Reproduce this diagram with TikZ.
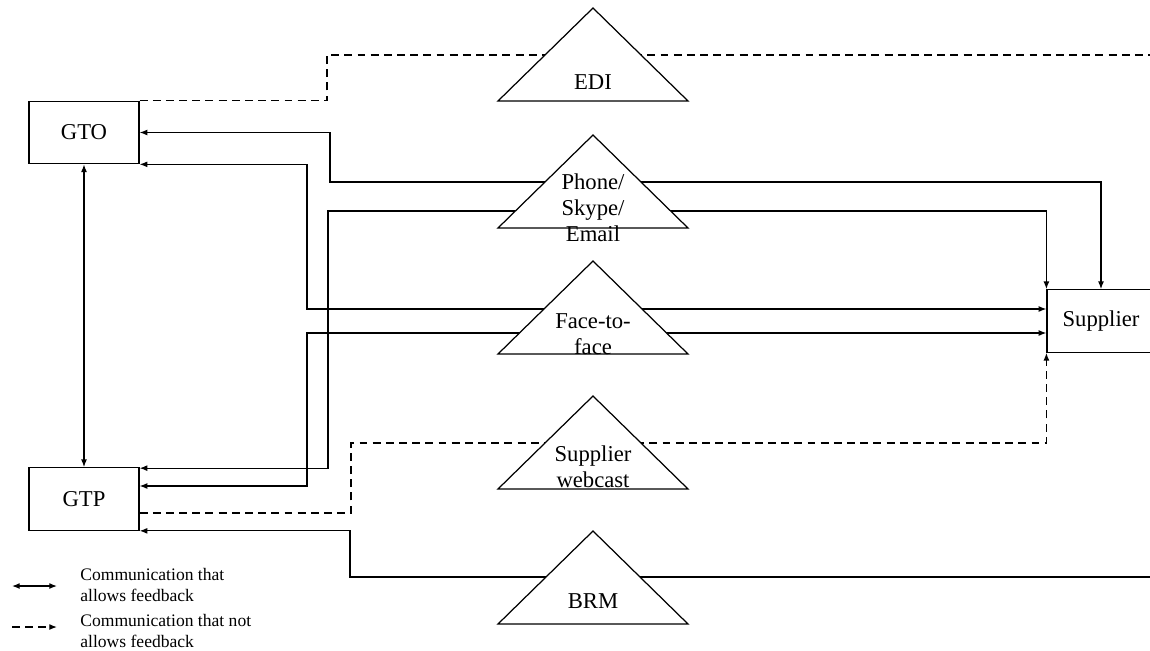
\documentclass[tikz,border=0pt]{standalone}
\usepackage{fontspec}
\setmainfont{Liberation Serif}
\usetikzlibrary{arrows.meta, calc}

\tikzset{
  tip/.style={Latex[length=4.4pt,width=3.4pt]},
  unit/.style={draw, line width=0.7pt, minimum width=2.2cm, minimum height=1.25cm, inner sep=0pt, font=\fontsize{12.9}{15}\selectfont},
  chan/.style={draw, line width=0.7pt, fill=white},
  chantext/.style={align=center, inner sep=0pt, font=\fontsize{12.9}{14.8}\selectfont},
  fb/.style={line width=0.7pt, {Latex[length=4.4pt,width=3.4pt]}-{Latex[length=4.4pt,width=3.4pt]}},
  nofb/.style={line width=0.7pt, dash pattern=on 4.5pt off 3pt},
  legtext/.style={anchor=west, align=left, inner sep=0pt, font=\fontsize{10}{12}\selectfont}
}

\begin{document}
\begin{tikzpicture}[x=0.02cm, y=-0.02cm]
  \useasboundingbox (0,0) rectangle (1150,650);
  \clip (0,0) rectangle (1150,650);

  % actors
  \node[unit] (gto) at (84,132.5) {GTO};
  \node[unit] (gtp) at (84,499) {GTP};
  \node[unit, minimum width=2.16cm] (supplier) at (1101,321) {Supplier};

  \coordinate (ediout) at (1160,55);
  \coordinate (brmout) at (1160,577);

  % connectors
  \draw[fb] (gto) -- (gtp);
  \draw[nofb] (gto.north east) -| (327,55) -- (ediout);
  \draw[fb] (gto.east) -| (330,182) -| (supplier.north);
  \draw[fb] (gto.south east) -| (307,309) -- ($(supplier.west)+(0,-12)$);
  \draw[fb] ($(gtp.north east)+(0,1)$) -| (328,211) -| (supplier.north west);
  \draw[fb] ($(gtp.east)+(0,-13)$) -| (307,333) -- ($(supplier.west)+(0,12)$);
  \draw[nofb, -{Latex[length=4.4pt,width=3.4pt]}] ($(gtp.east)+(0,14)$) -| (351,443) -| (supplier.south west);
  \draw[line width=0.7pt, {Latex[length=4.4pt,width=3.4pt]}-] (gtp.south east) -| (350,577) -- (brmout);

  % channels
  \foreach \ty in {8,135,261,396,531}
    \draw[chan] (593,\ty) -- ++(95,93) -- ++(-190,0) -- cycle;
  \node[chantext] (edi) at (593,82) {EDI};
  \node[chantext] (phone) at (593,208) {Phone/\\Skype/\\Email};
  \node[chantext] (face) at (593,334) {Face-to-\\face};
  \node[chantext] (web) at (593,467) {Supplier\\webcast};
  \node[chantext] (brm) at (593,601) {BRM};

  % legend
  \coordinate (fba) at (12,586);
  \coordinate (fbb) at (57,586);
  \coordinate (nofba) at (12,627);
  \coordinate (nofbb) at (57,627);
  \draw[fb] (fba) -- (fbb);
  \draw[nofb, -{Latex[length=4.4pt,width=3.4pt]}] (nofba) -- (nofbb);
  \node[legtext] (fbtext) at (80,585) {Communication that\\allows feedback};
  \node[legtext] (nofbtext) at (80,631) {Communication that not\\allows feedback};
\end{tikzpicture}
\end{document}
